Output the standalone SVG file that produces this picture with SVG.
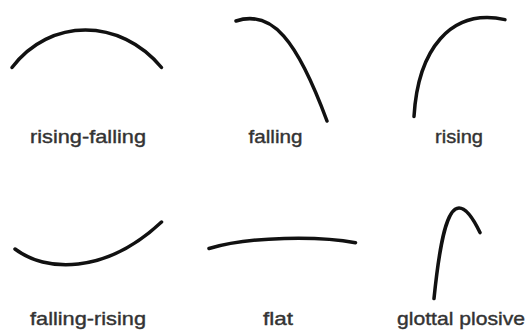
<svg xmlns="http://www.w3.org/2000/svg" width="528" height="330" viewBox="0 0 528 330">
<style>
.c{fill:none;stroke:#111;stroke-width:3.5;stroke-linecap:round}
.t{font-family:"Liberation Sans",Arial,sans-serif;font-size:19px;fill:#333;stroke:#333;stroke-width:0.4;text-anchor:middle}
</style>
<rect width="528" height="330" fill="#fff"/>
<g id="rising-falling">
<path class="c" d="M12 67.5 C50 17.5 120 17.5 161.5 67.5"/>
<text class="t" x="88" y="143" textLength="116" lengthAdjust="spacingAndGlyphs">rising-falling</text>
</g>
<g id="falling">
<path class="c" d="M236 21 C272 9 297 40 327 121"/>
<text class="t" x="275.5" y="143" textLength="54" lengthAdjust="spacingAndGlyphs">falling</text>
</g>
<g id="rising">
<path class="c" d="M414 116.5 C418 50 450 8 505 19.6"/>
<text class="t" x="459" y="143" textLength="48" lengthAdjust="spacingAndGlyphs">rising</text>
</g>
<g id="falling-rising">
<path class="c" d="M15 249 C45 272 105 275 161.5 222"/>
<text class="t" x="88" y="325" textLength="116" lengthAdjust="spacingAndGlyphs">falling-rising</text>
</g>
<g id="flat">
<path class="c" d="M209 248.5 C250 236 320 236 355.5 242.7"/>
<text class="t" x="278" y="325" textLength="30" lengthAdjust="spacingAndGlyphs">flat</text>
</g>
<g id="glottal-plosive">
<path class="c" d="M434 298.5 C440 240 447 208 459 208 C467 208 474 220 480 232.6"/>
<text class="t" x="461" y="325" textLength="128" lengthAdjust="spacingAndGlyphs">glottal plosive</text>
</g>
<g id="connectors"/>
</svg>
